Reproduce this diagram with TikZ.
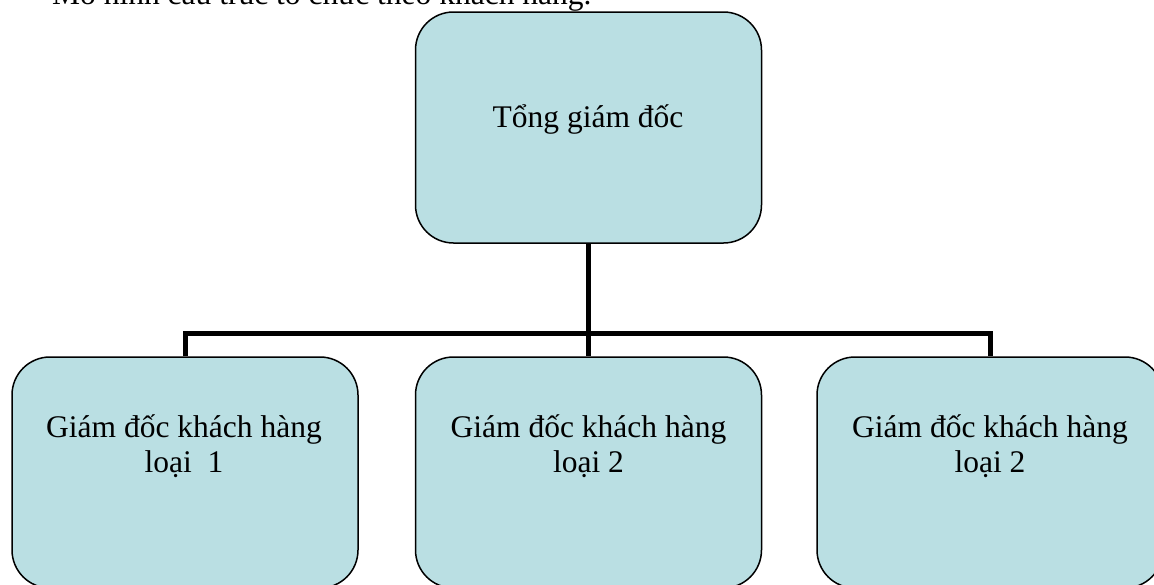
\documentclass[tikz,border=0pt]{standalone}
\usepackage{fontspec}
\setmainfont{Liberation Serif}
\definecolor{boxfill}{RGB}{186,223,227}
\tikzset{
  orgbox/.style={draw=black, line width=1.5pt, fill=boxfill, rounded corners=38pt,
    minimum width=346pt, minimum height=231pt, inner sep=0pt},
  boxtext/.style={font=\fontsize{31.5pt}{35pt}\selectfont, align=center, inner sep=0pt},
  conn/.style={line width=5pt, line join=miter, line cap=butt, draw=black}
}
\begin{document}
\begin{tikzpicture}[x=1pt,y=-1pt]
\useasboundingbox (0,0) rectangle (1154,584);
\clip (0,0) rectangle (1154,584);
\node[boxtext, anchor=base west] (caption) at (52,4) {Mô hình cấu trúc tổ chức theo khách hàng.};
\node[orgbox] (top) at (588.5,127.5) {};
\node[orgbox] (b1) at (185,472.5) {};
\node[orgbox] (b2) at (588.5,472.5) {};
\node[orgbox] (b3) at (990,472.5) {};
\node[boxtext, anchor=base] (ttop) at (588,127) {Tổng giám đốc};
\node[boxtext, anchor=base] (t1) at (184,472) {Giám đốc khách hàng\\loại~ 1};
\node[boxtext, anchor=base] (t2) at (588.5,472) {Giám đốc khách hàng\\loại 2};
\node[boxtext, anchor=base] (t3) at (990,472) {Giám đốc khách hàng\\loại 2};
\coordinate (bus) at (588.5,333);
\draw[conn] (top.south) -- (bus);
\draw[conn] (b1.north) |- (bus) -| (b3.north);
\draw[conn] (bus) -- (b2.north);
\end{tikzpicture}
\end{document}
